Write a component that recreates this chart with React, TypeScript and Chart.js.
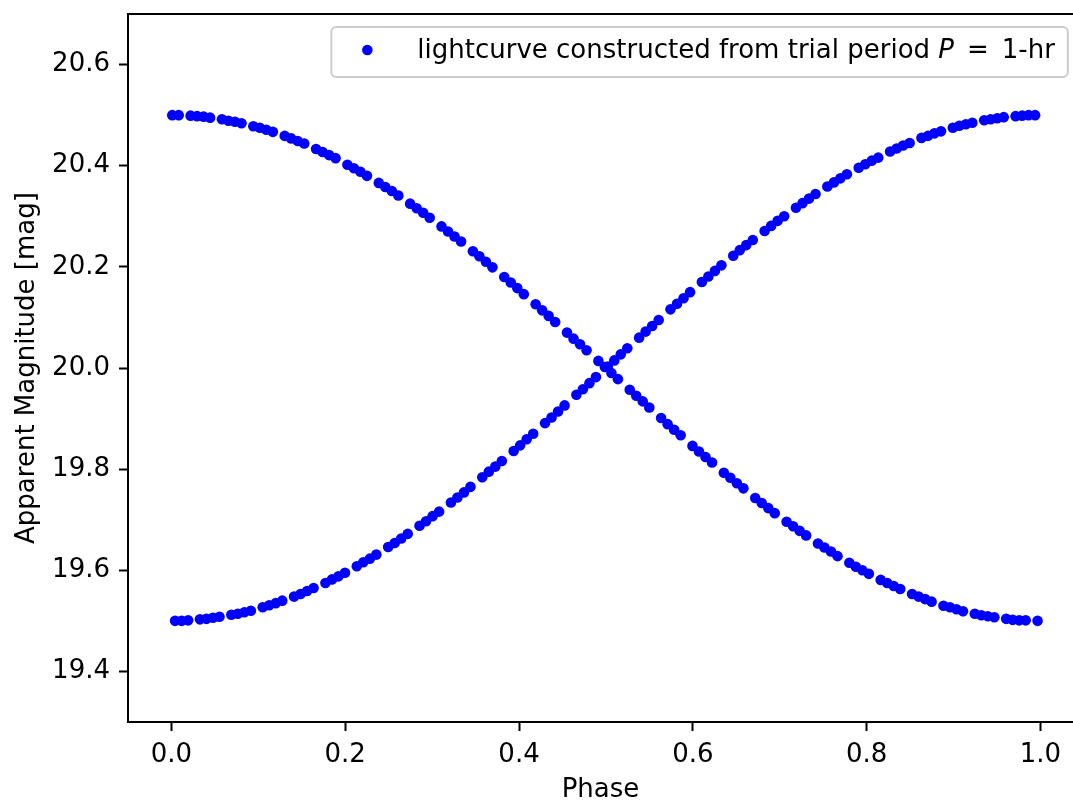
import { useEffect, useRef } from "react";
import { Chart, registerables } from "chart.js";

Chart.register(...registerables);

// Folded lightcurve: phase and apparent magnitude of each observation.
// First half of the observing run (magnitude falling from 20.5 to 19.5).
const phaseDesc = [
  0.0009, 0.0084,
  0.0220, 0.0295, 0.0370, 0.0445,
  0.0581, 0.0656, 0.0731, 0.0806,
  0.0942, 0.1017, 0.1092, 0.1167,
  0.1303, 0.1378, 0.1453, 0.1528,
  0.1664, 0.1739, 0.1814, 0.1889,
  0.2025, 0.2100, 0.2175, 0.2250,
  0.2386, 0.2461, 0.2536, 0.2611,
  0.2747, 0.2822, 0.2897, 0.2972,
  0.3108, 0.3183, 0.3258, 0.3333,
  0.3469, 0.3544, 0.3619, 0.3694,
  0.3830, 0.3905, 0.3980, 0.4055,
  0.4191, 0.4266, 0.4341, 0.4416,
  0.4552, 0.4627, 0.4702, 0.4777,
  0.4913, 0.4988, 0.5063, 0.5138,
  0.5274, 0.5349, 0.5424, 0.5499,
  0.5635, 0.5710, 0.5785, 0.5860,
  0.5996, 0.6071, 0.6146, 0.6221,
  0.6357, 0.6432, 0.6507, 0.6582,
  0.6718, 0.6793, 0.6868, 0.6943,
  0.7079, 0.7154, 0.7229, 0.7304,
  0.7440, 0.7515, 0.7590, 0.7665,
  0.7801, 0.7876, 0.7951, 0.8026,
  0.8162, 0.8237, 0.8312, 0.8387,
  0.8523, 0.8598, 0.8673, 0.8748,
  0.8884, 0.8959, 0.9034, 0.9109,
  0.9245, 0.9320, 0.9395, 0.9470,
  0.9606, 0.9681, 0.9756, 0.9831,
  0.9967,
];

const magDesc = [
  20.500, 20.500,
  20.499, 20.498, 20.497, 20.495,
  20.492, 20.489, 20.487, 20.484,
  20.478, 20.475, 20.471, 20.467,
  20.459, 20.454, 20.449, 20.444,
  20.433, 20.427, 20.421, 20.415,
  20.402, 20.395, 20.388, 20.380,
  20.366, 20.358, 20.350, 20.341,
  20.325, 20.316, 20.307, 20.297,
  20.280, 20.270, 20.260, 20.250,
  20.231, 20.221, 20.210, 20.199,
  20.180, 20.169, 20.158, 20.146,
  20.126, 20.114, 20.103, 20.091,
  20.070, 20.058, 20.047, 20.035,
  20.014, 20.002, 19.990, 19.978,
  19.957, 19.945, 19.934, 19.922,
  19.901, 19.889, 19.878, 19.867,
  19.846, 19.835, 19.824, 19.813,
  19.793, 19.783, 19.772, 19.762,
  19.743, 19.733, 19.723, 19.713,
  19.696, 19.687, 19.678, 19.669,
  19.653, 19.645, 19.637, 19.628,
  19.615, 19.607, 19.600, 19.593,
  19.581, 19.575, 19.569, 19.563,
  19.553, 19.548, 19.543, 19.538,
  19.530, 19.527, 19.523, 19.519,
  19.514, 19.511, 19.509, 19.507,
  19.504, 19.502, 19.501, 19.501,
  19.500,
];

// Second half of the run (magnitude rising from 19.5 to 20.5).
const phaseAsc = [
  0.0042, 0.0117, 0.0192,
  0.0328, 0.0403, 0.0478, 0.0553,
  0.0689, 0.0764, 0.0839, 0.0914,
  0.1050, 0.1125, 0.1200, 0.1275,
  0.1411, 0.1486, 0.1561, 0.1636,
  0.1772, 0.1847, 0.1922, 0.1997,
  0.2133, 0.2208, 0.2283, 0.2358,
  0.2494, 0.2569, 0.2644, 0.2719,
  0.2855, 0.2930, 0.3005, 0.3080,
  0.3216, 0.3291, 0.3366, 0.3441,
  0.3577, 0.3652, 0.3727, 0.3802,
  0.3938, 0.4013, 0.4088, 0.4163,
  0.4299, 0.4374, 0.4449, 0.4524,
  0.4660, 0.4735, 0.4810, 0.4885,
  0.5021, 0.5096, 0.5171, 0.5246,
  0.5382, 0.5457, 0.5532, 0.5607,
  0.5743, 0.5818, 0.5893, 0.5968,
  0.6104, 0.6179, 0.6254, 0.6329,
  0.6465, 0.6540, 0.6615, 0.6690,
  0.6826, 0.6901, 0.6976, 0.7051,
  0.7187, 0.7262, 0.7337, 0.7412,
  0.7548, 0.7623, 0.7698, 0.7773,
  0.7909, 0.7984, 0.8059, 0.8134,
  0.8270, 0.8345, 0.8420, 0.8495,
  0.8631, 0.8706, 0.8781, 0.8856,
  0.8992, 0.9067, 0.9142, 0.9217,
  0.9353, 0.9428, 0.9503, 0.9578,
  0.9714, 0.9789, 0.9864, 0.9939,
];

const magAsc = [
  19.500, 19.500, 19.501,
  19.503, 19.504, 19.506, 19.508,
  19.512, 19.514, 19.517, 19.520,
  19.527, 19.531, 19.535, 19.540,
  19.548, 19.553, 19.559, 19.565,
  19.575, 19.582, 19.588, 19.595,
  19.608, 19.616, 19.623, 19.631,
  19.646, 19.654, 19.663, 19.672,
  19.688, 19.697, 19.707, 19.716,
  19.734, 19.744, 19.754, 19.765,
  19.784, 19.795, 19.805, 19.816,
  19.836, 19.847, 19.859, 19.870,
  19.891, 19.902, 19.914, 19.926,
  19.947, 19.958, 19.970, 19.982,
  20.003, 20.015, 20.027, 20.039,
  20.060, 20.072, 20.083, 20.095,
  20.116, 20.127, 20.138, 20.150,
  20.170, 20.181, 20.192, 20.203,
  20.222, 20.233, 20.243, 20.253,
  20.271, 20.281, 20.291, 20.300,
  20.317, 20.326, 20.335, 20.344,
  20.359, 20.367, 20.375, 20.383,
  20.396, 20.403, 20.410, 20.416,
  20.428, 20.434, 20.440, 20.445,
  20.455, 20.459, 20.464, 20.468,
  20.475, 20.479, 20.482, 20.485,
  20.490, 20.492, 20.494, 20.496,
  20.498, 20.499, 20.500, 20.500,
];

const phaseTicks = [0.0, 0.2, 0.4, 0.6, 0.8, 1.0];
const magTicks = [19.4, 19.6, 19.8, 20.0, 20.2, 20.4, 20.6];
// Phase axis: full axes extent is -0.05..1.05; the visible part ends
// where the canvas ends.
const phaseMin = -0.05;
const phaseAxesMax = 1.05;
const phaseVisibleMax = 1.0375;

const xTitle = "Phase";
const yTitle = "Apparent Magnitude [mag]";
// Legend text pieces: plain text, italic symbol, relation sign, value.
const legendParts = ["lightcurve constructed from trial period ", "P", "=", "1-hr"];

const FONT = "'DejaVu Sans', 'Liberation Sans', sans-serif";
const FONT_SIZE = 26;
const MARKER = "#0000ff";

export default function App() {
  const canvasRef = useRef<HTMLCanvasElement>(null);

  useEffect(() => {
    const canvas = canvasRef.current;
    if (!canvas) return;

    const points = [
      ...phaseDesc.map((p, i) => ({ x: p, y: magDesc[i] })),
      ...phaseAsc.map((p, i) => ({ x: p, y: magAsc[i] })),
    ];

    // Top frame line and the boxed legend in the upper right.
    const framePlugin = {
      id: "frameAndLegend",
      afterDraw(chart: any) {
        const { ctx, chartArea: a } = chart;
        const axesRight = chart.scales.x.getPixelForValue(phaseAxesMax);
        ctx.save();
        // Keep the open right side of the plot box clean.
        ctx.fillStyle = "#fff";
        ctx.fillRect(a.right - 3, a.top + 2, 4, a.bottom - a.top - 4);

        ctx.strokeStyle = "#000";
        ctx.lineWidth = 2;
        ctx.beginPath();
        ctx.moveTo(a.left - 1, a.top);
        ctx.lineTo(a.right + 2, a.top);
        ctx.stroke();

        const normal = `${FONT_SIZE}px ${FONT}`;
        const italic = `italic ${FONT_SIZE}px ${FONT}`;
        const relGap = 13;
        ctx.font = normal;
        const w1 = ctx.measureText(legendParts[0]).width;
        const wEq = ctx.measureText(legendParts[2]).width;
        const wVal = ctx.measureText(legendParts[3]).width;
        ctx.font = italic;
        const wP = ctx.measureText(legendParts[1]).width;
        const textW = w1 + wP + relGap + wEq + relGap + wVal;

        const pad = 13;
        const textOffset = 86;
        const markerOffset = 36;
        const boxW = textOffset + textW + pad;
        const boxH = 50;
        const right = axesRight - 16;
        const left = right - boxW;
        const top = a.top + 13;
        const cy = top + boxH / 2;

        ctx.beginPath();
        (ctx as any).roundRect(left, top, boxW, boxH, 5);
        ctx.fillStyle = "rgba(255,255,255,0.8)";
        ctx.fill();
        ctx.strokeStyle = "#cccccc";
        ctx.lineWidth = 2;
        ctx.stroke();

        ctx.beginPath();
        ctx.arc(left + markerOffset, cy - 2, 5.3, 0, Math.PI * 2);
        ctx.fillStyle = MARKER;
        ctx.fill();

        ctx.fillStyle = "#000";
        ctx.textBaseline = "middle";
        ctx.textAlign = "left";
        let tx = left + textOffset;
        ctx.font = normal;
        ctx.fillText(legendParts[0], tx, cy - 1);
        tx += w1;
        ctx.font = italic;
        ctx.fillText(legendParts[1], tx, cy - 1);
        tx += wP + relGap;
        ctx.font = normal;
        ctx.fillText(legendParts[2], tx, cy - 1);
        tx += wEq + relGap;
        ctx.fillText(legendParts[3], tx, cy - 1);
        ctx.restore();
      },
    };

    const tickFont = { size: FONT_SIZE, family: FONT };
    const gridCfg = {
      drawOnChartArea: false,
      drawTicks: true,
      tickLength: 9,
      tickWidth: 2,
      tickColor: "#000",
    };
    const borderCfg = { display: true, color: "#000", width: 2 };

    const chart = new Chart(canvas, {
      type: "scatter",
      data: {
        datasets: [
          {
            label: legendParts.join(""),
            data: points,
            backgroundColor: MARKER,
            borderColor: MARKER,
            borderWidth: 0,
            pointRadius: 5.3,
            pointHoverRadius: 5.3,
          },
        ],
      },
      options: {
        animation: false,
        responsive: false,
        devicePixelRatio: 1,
        events: [],
        layout: {
          autoPadding: false,
          padding: { top: 14, right: 0, left: 0, bottom: 0 },
        },
        plugins: {
          legend: { display: false },
          tooltip: { enabled: false },
        },
        scales: {
          x: {
            type: "linear",
            min: phaseMin,
            max: phaseVisibleMax,
            afterBuildTicks: (s: any) => {
              s.ticks = phaseTicks.map((v) => ({ value: v }));
            },
            afterFit: (s: any) => {
              s.height = 84;
              s.paddingLeft = 0;
              s.paddingRight = 0;
            },
            ticks: {
              callback: (v: any) => Number(v).toFixed(1),
              color: "#000",
              font: tickFont,
              padding: 9,
              maxRotation: 0,
              autoSkip: false,
            },
            grid: gridCfg,
            border: borderCfg,
            title: {
              display: true,
              text: xTitle,
              color: "#000",
              font: { size: FONT_SIZE, family: FONT, lineHeight: 1.2 },
              padding: { top: 0, bottom: 0 },
            },
          },
          y: {
            type: "linear",
            min: 19.3,
            max: 20.7,
            afterBuildTicks: (s: any) => {
              s.ticks = magTicks.map((v) => ({ value: v }));
            },
            afterFit: (s: any) => {
              s.width = 128;
              s.paddingTop = 0;
              s.paddingBottom = 0;
            },
            ticks: {
              callback: (v: any) => Number(v).toFixed(1),
              color: "#000",
              font: tickFont,
              padding: 9,
              autoSkip: false,
            },
            grid: gridCfg,
            border: borderCfg,
            title: {
              display: true,
              text: yTitle,
              color: "#000",
              font: { size: FONT_SIZE, family: FONT, lineHeight: 1.2 },
              padding: { top: 12, bottom: 0 },
            },
          },
        },
      },
      plugins: [framePlugin],
    } as any);

    return () => chart.destroy();
  }, []);

  return (
    <div
      style={{
        position: "fixed",
        left: 0,
        top: 0,
        width: 1073,
        height: 806,
        overflow: "hidden",
        background: "#fff",
      }}
    >
      <canvas
        ref={canvasRef}
        width={1073}
        height={806}
        style={{ display: "block", width: 1073, height: 806 }}
      />
    </div>
  );
}
